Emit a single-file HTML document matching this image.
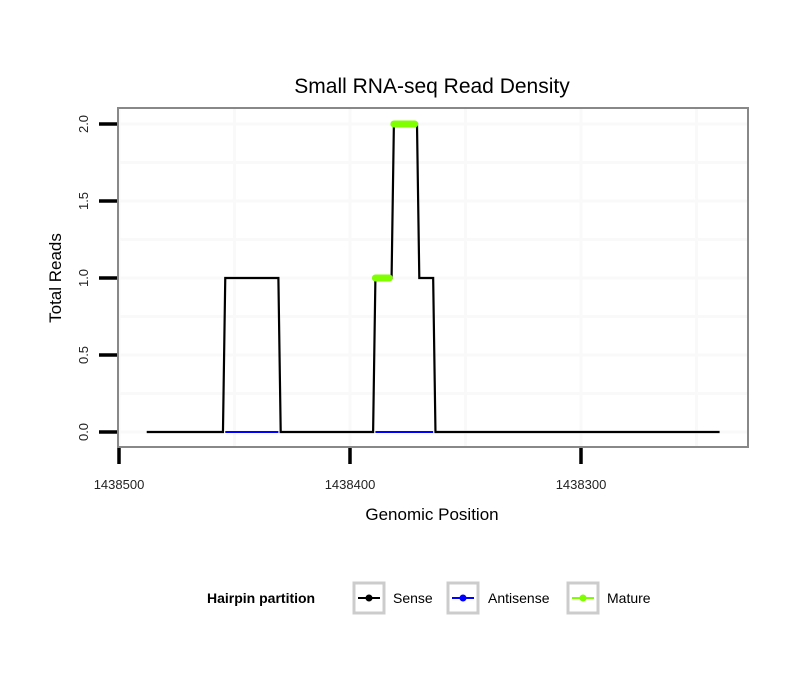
<!DOCTYPE html>
<html><head><meta charset="utf-8"><style>
body{margin:0;background:#fff;}
svg{display:block;font-family:"Liberation Sans",sans-serif;}
</style></head><body>
<svg id="chart" width="810" height="690">
<text x="432" y="93" font-size="21" text-anchor="middle">Small RNA-seq Read Density</text>
<g id="grid"></g>
<g id="series"></g>
<rect x="118" y="108" width="630" height="339" fill="none" stroke="#888" stroke-width="2"/>
<g id="axes"></g>
<text x="432" y="520" font-size="17" text-anchor="middle">Genomic Position</text>
<text transform="translate(61,278) rotate(-90)" font-size="17" text-anchor="middle">Total Reads</text>
<g>
<text x="207" y="603" font-size="14" font-weight="bold">Hairpin partition</text>
<g>
<rect x="354" y="583" width="30" height="30" fill="#fff" stroke="#ccc" stroke-width="3"/>
<line x1="358" y1="598" x2="380" y2="598" stroke="#000" stroke-width="2"/><circle cx="369" cy="598" r="3.5" fill="#000"/>
<text x="393" y="603" font-size="14">Sense</text></g>
<g>
<rect x="448" y="583" width="30" height="30" fill="#fff" stroke="#ccc" stroke-width="3"/>
<line x1="452" y1="598" x2="474" y2="598" stroke="#00f" stroke-width="2"/><circle cx="463" cy="598" r="3.5" fill="#00f"/>
<text x="488" y="603" font-size="14">Antisense</text></g>
<g>
<rect x="568" y="583" width="30" height="30" fill="#fff" stroke="#ccc" stroke-width="3"/>
<line x1="572" y1="598" x2="594" y2="598" stroke="#7fff00" stroke-width="2"/><circle cx="583" cy="598" r="3.5" fill="#7fff00"/>
<text x="607" y="603" font-size="14">Mature</text></g>
</g>
</svg>
<script>
const senseX=[1438488,1438455,1438454,1438431,1438430,1438390,1438389,1438382,1438381,1438371,1438370,1438364,1438363,1438240];
const senseY=[0,0,1,1,0,0,1,1,2,2,1,1,0,0];
const antisenseSegX=[[1438454,1438431],[1438389,1438364]];
const antisenseSegY=[[0,0],[0,0]];
const matureSegX=[[1438389,1438383],[1438381,1438372]];
const matureSegY=[[1,1],[2,2]];
const xTicks=[1438500,1438400,1438300];
const xMinor=[1438450,1438350,1438250];
const yTicks=[0,0.5,1,1.5,2];
const yTickLabels=["0.0","0.5","1.0","1.5","2.0"];
const yMinor=[0.25,0.75,1.25,1.75];

const NS="http://www.w3.org/2000/svg";
function xs(v){return 119+(1438500-v)*2.31;}
function ys(v){return 432-v*154;}
function mk(tag,attrs,parent){const e=document.createElementNS(NS,tag);for(const k in attrs)e.setAttribute(k,attrs[k]);parent.appendChild(e);return e;}
const grid=document.getElementById('grid'),ser=document.getElementById('series'),ax=document.getElementById('axes');
xTicks.concat(xMinor).forEach(v=>{const l=mk('line',{x1:xs(v),x2:xs(v),y1:108,y2:447,stroke:'#f9f9f9','stroke-width':3},grid);

});
yTicks.concat(yMinor).forEach(v=>{const l=mk('line',{x1:118,x2:748,y1:ys(v),y2:ys(v),stroke:'#f9f9f9','stroke-width':3},grid);

});
const p=mk('polyline',{points:senseX.map((x,i)=>xs(x)+','+ys(senseY[i])).join(' '),fill:'none',stroke:'#000','stroke-width':2.2},ser);


antisenseSegX.forEach((s,i)=>{const l=mk('line',{x1:xs(s[0]),x2:xs(s[1]),y1:ys(antisenseSegY[i][0]),y2:ys(antisenseSegY[i][1]),stroke:'#00f','stroke-width':2},ser);

});
matureSegX.forEach((s,i)=>{const l=mk('line',{x1:xs(s[0]),x2:xs(s[1]),y1:ys(matureSegY[i][0]),y2:ys(matureSegY[i][1]),stroke:'#7fff00','stroke-width':7,'stroke-linecap':'round'},ser);

});
yTicks.forEach((v,i)=>{const t=mk('line',{x1:99,x2:117,y1:ys(v),y2:ys(v),stroke:'#000','stroke-width':3.5},ax);


const tx=mk('text',{transform:'translate(88,'+ys(v)+') rotate(-90)','font-size':13,'text-anchor':'middle',fill:'#222'},ax);
tx.textContent=yTickLabels[i];

});
xTicks.forEach(v=>{const t=mk('line',{x1:xs(v),x2:xs(v),y1:448,y2:464,stroke:'#000','stroke-width':3.5},ax);


const tx=mk('text',{x:xs(v),y:489,'font-size':13,'text-anchor':'middle',fill:'#222'},ax);
tx.textContent=String(v);

});
</script>
</body></html>
